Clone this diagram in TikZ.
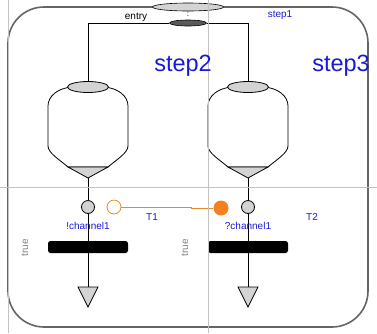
\documentclass[tikz,border=0pt]{standalone}
\usepackage{fontspec}
\setmainfont{Liberation Sans}
\usetikzlibrary{shapes.geometric}

\definecolor{stepblue}{RGB}{25,25,215}
\definecolor{bordergray}{RGB}{100,100,100}
\definecolor{guidegray}{RGB}{195,195,195}
\definecolor{portgray}{RGB}{211,211,211}
\definecolor{linkorange}{RGB}{225,140,40}
\definecolor{fillorange}{RGB}{245,128,32}

\tikzset{
  port/.style={ellipse,draw,fill=portgray,inner sep=0pt},
  knob/.style={circle,draw,fill=portgray,inner sep=0pt,minimum size=13pt},
  bar/.style={rectangle,fill=black,rounded corners=2.5pt,inner sep=0pt,minimum width=80pt,minimum height=12pt},
  lbl/.style={text=stepblue,font=\fontsize{10}{11}\selectfont,inner sep=0pt},
  biglbl/.style={text=stepblue,font=\fontsize{23.5}{25}\selectfont,inner sep=0pt},
}

\begin{document}
\begin{tikzpicture}[x=1pt,y=-1pt,line width=0.8pt]
  \useasboundingbox (0,0) rectangle (377,333);

  % outer composite step
  \draw[draw=bordergray,line width=1.6pt,rounded corners=36pt] (8,7) rectangle (368,327);

  \node[port,minimum width=71pt,minimum height=8pt,line width=0.6pt] (step1) at (188,7) {};
  \node[font=\fontsize{8}{8}\selectfont,inner sep=0pt] (dots) at (188,14) {:};
  \node[port,fill=black!65,minimum width=37pt,minimum height=6pt,line width=0.6pt] (entry) at (188,23) {};

  % step2 (left)
  \draw[fill=white] (48,106) -- (48,146) .. controls (48,153) and (60,160) .. (68,167) -- (108,167) .. controls (116,160) and (128,153) .. (128,146) -- (128,106) .. controls (128,96) and (118,88) .. (104,87) -- (72,87) .. controls (58,88) and (48,96) .. (48,106) -- cycle;
  \draw[fill=portgray] (68,167) -- (108,167) -- (88,178) -- cycle;
  \node[port,minimum width=41pt,minimum height=11pt] (inL) at (88,87) {};
  \coordinate (exitL) at (88,178);
  \node[knob] (knobL) at (88,207) {};
  \coordinate (outL) at (88,287);
  \draw (exitL) -- (knobL);
  \draw (knobL) -- (outL);
  \node[bar] (barL) at (88,247) {};
  \draw[fill=portgray] (outL) -- ++(10,0) -- ++(-10,20) -- ++(-10,-20) -- cycle;

  % step3 (right)
  \draw[fill=white] (208,106) -- (208,146) .. controls (208,153) and (220,160) .. (228,167) -- (268,167) .. controls (276,160) and (288,153) .. (288,146) -- (288,106) .. controls (288,96) and (278,88) .. (264,87) -- (232,87) .. controls (218,88) and (208,96) .. (208,106) -- cycle;
  \draw[fill=portgray] (228,167) -- (268,167) -- (248,178) -- cycle;
  \node[port,minimum width=41pt,minimum height=11pt] (inR) at (248,87) {};
  \coordinate (exitR) at (248,178);
  \node[knob] (knobR) at (248,207) {};
  \coordinate (outR) at (248,287);
  \draw (exitR) -- (knobR);
  \draw (knobR) -- (outR);
  \node[bar] (barR) at (248,247) {};
  \draw[fill=portgray] (outR) -- ++(10,0) -- ++(-10,20) -- ++(-10,-20) -- cycle;

  % entry fork
  \draw (inL.north) |- (entry.west);
  \draw (entry.east) -| (inR.north);

  % channel link
  \node[circle,draw=linkorange,fill=white,inner sep=0pt,minimum size=14pt] (send) at (114,207) {};
  \node[circle,fill=fillorange,inner sep=0pt,minimum size=15pt] (recv) at (221,208) {};
  \draw[linkorange] (send.east) -- ++(70,0) |- (recv.west);

  % guide lines
  \draw[guidegray,line width=0.5pt] (8.5,0) -- (8.5,333);
  \draw[guidegray,line width=0.5pt] (208,0) -- (208,333);
  \draw[guidegray,line width=0.5pt] (0,187) -- (377,187);

  % labels
  \node[font=\fontsize{10}{11}\selectfont,inner sep=0pt] (entrylbl) at (136,17) {entry};
  \node[lbl] (step1lbl) at (280,15) {step1};
  \node[biglbl] (step2lbl) at (183,66) {step2};
  \node[biglbl] (step3lbl) at (341,66) {step3};
  \node[lbl] (chL) at (88,226) {!channel1};
  \node[lbl] (chR) at (248,226) {?channel1};
  \node[lbl] (T1) at (152,217) {T1};
  \node[lbl] (T2) at (312,217) {T2};
  \node[text=gray,font=\fontsize{10}{11}\selectfont,rotate=90,inner sep=0pt] (condL) at (25,248) {true};
  \node[text=gray,font=\fontsize{10}{11}\selectfont,rotate=90,inner sep=0pt] (condR) at (185,248) {true};
\end{tikzpicture}
\end{document}
